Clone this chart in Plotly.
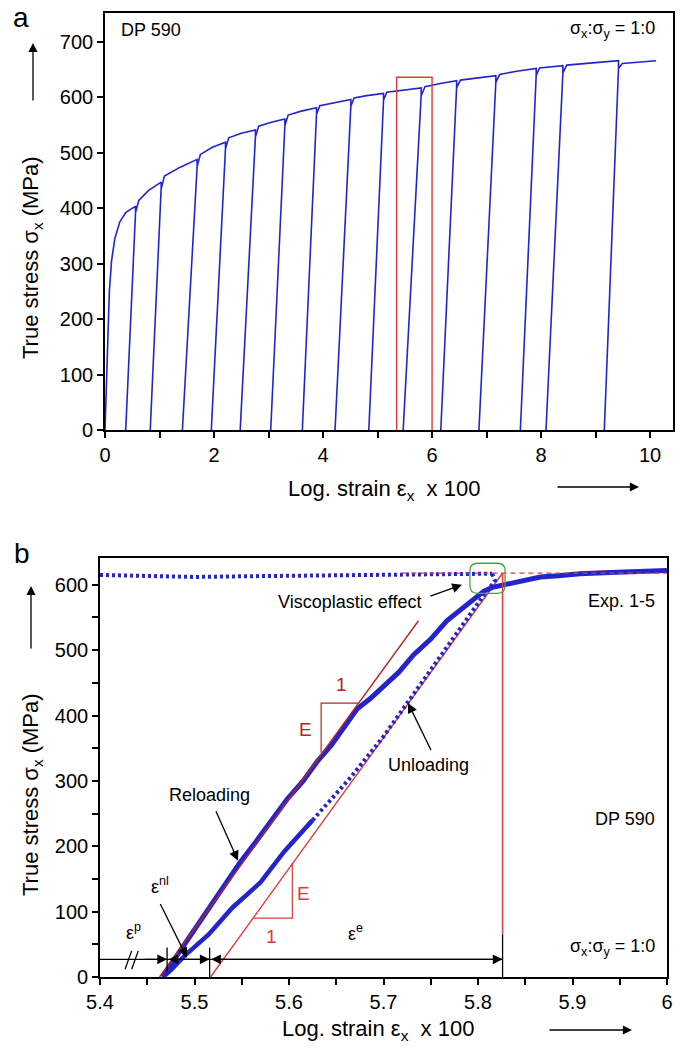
import plotly.graph_objects as go

W, H = 683, 1052
FONT = "Liberation Sans, Arial, sans-serif"
BLUE = "#2424cc"
RED = "#e03a3a"
DARKRED = "#b52525"
GREEN = "#4aa04a"

# ---------------- Panel a data (log strain x100, true stress MPa) ----------------
a_first_strain = [0.0, 0.04, 0.08, 0.12, 0.18, 0.27, 0.38, 0.50]
a_first_stress = [0, 150, 250, 305, 345, 375, 392, 400]
a_peak_strain = [0.56, 1.03, 1.69, 2.21, 2.76, 3.30, 3.88, 4.51, 5.11, 5.80, 6.45, 7.17, 7.91, 8.40, 9.42]
a_peak_stress = [403, 447, 488, 519, 541, 561, 581, 596, 607, 617, 630, 639, 652, 657, 666]
a_dip_stress = [392, 435, 475, 507, 529, 549, 569, 584, 595, 603, 617, 627, 639, 644, 652]
a_zero_strain = [0.38, 0.83, 1.42, 1.95, 2.48, 3.04, 3.62, 4.22, 4.84, 5.47, 6.16, 6.86, 7.62, 8.09, 9.16]
a_knee_strain = [0.62, 1.09, 1.75, 2.27, 2.82, 3.36, 3.94, 4.57, 5.17, 5.87, 6.52, 7.24, 7.97, 8.47, 9.49]
a_knee_stress = [414, 458, 497, 527, 548, 568, 585, 599, 609, 619, 631, 641, 653, 658, 661]
a_mid_strain = [0.80, 1.38, 1.97, 2.50, 3.05, 3.60, 4.22, 4.80, 5.45, 6.15, 6.80, 7.55, 8.15, 8.90, 9.80]
a_mid_stress = [432, 474, 510, 535, 555, 575, 591, 603, 613, 625, 635, 647, 655, 661, 663]
a_end_strain = 10.11
a_end_stress = 666
a_box_strain = [5.35, 5.35, 6.0, 6.0]
a_box_stress = [0, 636, 636, 0]

# ---------------- Panel b data ----------------
b_load_strain = [5.40, 5.45, 5.50, 5.55, 5.60, 5.65, 5.70, 5.75, 5.80, 5.815]
b_load_stress = [615, 614, 612, 613, 614, 615, 616, 617, 617, 617]
b_unload_strain = [5.815, 5.818, 5.806, 5.768, 5.731, 5.700, 5.665, 5.625, 5.595, 5.570, 5.540,
                   5.515, 5.490, 5.476, 5.467]
b_unload_stress = [617, 606, 584, 506, 429, 368, 305, 240, 192, 145, 106, 65, 33, 12, 0]
b_unload_dense_from = 7   # index where the unloading points become dense
b_reload_strain = [5.466, 5.480, 5.495, 5.510, 5.530, 5.548, 5.565, 5.580, 5.598, 5.615, 5.630,
                   5.645, 5.660, 5.672, 5.686, 5.700, 5.716, 5.732, 5.750, 5.767, 5.780,
                   5.792, 5.806, 5.815, 5.827, 5.840, 5.866, 5.885, 5.908, 5.940, 5.970, 6.000]
b_reload_stress = [0, 30, 60, 95, 138, 175, 207, 238, 272, 300, 330,
                   355, 386, 410, 426, 445, 466, 493, 517, 545, 560,
                   575, 590, 596, 600, 605, 612, 614, 617, 619, 620, 622]

# reference (elastic) lines and helpers
b_E_upper_strain = [5.463, 5.737]
b_E_upper_stress = [0, 545]
b_E_lower_strain = [5.517, 5.826]
b_E_lower_stress = [0, 618]
b_tri_upper_strain = [5.634, 5.634, 5.673]
b_tri_upper_stress = [343, 419, 419]
b_tri_lower_strain = [5.5625, 5.6035, 5.6035]
b_tri_lower_stress = [90, 90, 175]
b_flow_strain = [5.72, 6.0]
b_flow_stress = [618, 618]
b_vert_red_strain = [5.826, 5.826]
b_vert_red_stress = [65, 618]
b_dim_level = 27
b_dim_strain = [5.4, 5.826]
b_tick_strain = [5.471, 5.516, 5.826]
b_tick_low = [8, 0, 0]
b_tick_high = [45, 45, 65]
b_break_strain = [[5.4265, 5.4335], [5.4335, 5.4405]]
b_break_stress = [12, 40]
b_green_box = [5.7915, 5.8286, 587, 633]

fig = go.Figure()

# ---- panel a traces ----
px_, py_ = list(a_first_strain), list(a_first_stress)
for i in range(len(a_peak_strain)):
    px_ += [a_peak_strain[i], a_peak_strain[i], a_zero_strain[i], a_peak_strain[i],
            a_knee_strain[i], a_mid_strain[i]]
    py_ += [a_peak_stress[i], a_dip_stress[i], 0, a_dip_stress[i],
            a_knee_stress[i], a_mid_stress[i]]
px_.append(a_end_strain)
py_.append(a_end_stress)
fig.add_trace(go.Scatter(x=px_, y=py_, mode="lines", line=dict(color=BLUE, width=1.6),
                         xaxis="x", yaxis="y", showlegend=False, hoverinfo="skip"))
fig.add_trace(go.Scatter(x=a_box_strain, y=a_box_stress, mode="lines",
                         line=dict(color=RED, width=1.4), xaxis="x", yaxis="y",
                         showlegend=False, hoverinfo="skip"))

# ---- panel b traces ----
def add_b(x, y, color, width, dash=None):
    fig.add_trace(go.Scatter(x=x, y=y, mode="lines",
                             line=dict(color=color, width=width, dash=dash),
                             xaxis="x2", yaxis="y2", showlegend=False, hoverinfo="skip"))

add_b(b_E_lower_strain, b_E_lower_stress, RED, 1.4)
add_b(b_load_strain, b_load_stress, BLUE, 4, "3px,3px")
k = b_unload_dense_from
add_b(b_unload_strain[:k + 1], b_unload_stress[:k + 1], BLUE, 4, "3px,3px")
add_b(b_unload_strain[k:], b_unload_stress[k:], BLUE, 4.5)
add_b(b_reload_strain, b_reload_stress, BLUE, 5)
add_b(b_E_upper_strain, b_E_upper_stress, DARKRED, 1.4)
add_b(b_tri_upper_strain, b_tri_upper_stress, DARKRED, 1.2)
add_b(b_tri_lower_strain, b_tri_lower_stress, RED, 1.2)
add_b(b_flow_strain, b_flow_stress, RED, 1.3, "5px,4px")
add_b(b_vert_red_strain, b_vert_red_stress, RED, 1.5)
add_b(b_dim_strain, [b_dim_level, b_dim_level], "black", 1.3)
for xs, lo, hi in zip(b_tick_strain, b_tick_low, b_tick_high):
    add_b([xs, xs], [lo, hi], "black", 1.3)
for seg in b_break_strain:
    add_b(seg, b_break_stress, "black", 1.3)
gx0, gx1, gy0, gy1 = b_green_box
rx, ry = 0.008, 11
path = (f"M {gx0+rx},{gy0} L {gx1-rx},{gy0} Q {gx1},{gy0} {gx1},{gy0+ry} "
        f"L {gx1},{gy1-ry} Q {gx1},{gy1} {gx1-rx},{gy1} L {gx0+rx},{gy1} "
        f"Q {gx0},{gy1} {gx0},{gy1-ry} L {gx0},{gy0+ry} Q {gx0},{gy0} {gx0+rx},{gy0} Z")
fig.add_shape(type="path", path=path, xref="x2", yref="y2",
              line=dict(color=GREEN, width=1.3))

# ---- axes ----
axis_common = dict(showline=True, linecolor="black", linewidth=1.6, mirror=True,
                   ticks="outside", ticklen=6, tickwidth=1.5, tickcolor="black",
                   showgrid=False, zeroline=False, automargin=False,
                   tickfont=dict(family=FONT, size=20, color="black"))
fig.update_layout(
    xaxis=dict(domain=[105 / W, 673 / W], range=[0, 10.42], dtick=2, tick0=0, anchor="y",
               minor=dict(dtick=1, ticks="outside", ticklen=6, tickwidth=1.5, tickcolor="black"),
               **axis_common),
    yaxis=dict(domain=[1 - 430 / H, 1 - 13 / H], range=[0, 752], dtick=100, anchor="x",
               **axis_common),
    xaxis2=dict(domain=[100 / W, 667 / W], range=[5.4, 6.0], dtick=0.1, tick0=5.4, anchor="y2",
                minor=dict(dtick=0.05, ticks="outside", ticklen=6, tickwidth=1.5, tickcolor="black"),
                **axis_common),
    yaxis2=dict(domain=[1 - 977 / H, 1 - 558 / H], range=[0, 641], dtick=100, anchor="x2",
                minor=dict(dtick=50, ticks="outside", ticklen=6, tickwidth=1.5, tickcolor="black"),
                **axis_common),
)

ann = []

def ptext(x, y, text, size, **kw):
    ann.append(dict(x=x / W, y=1 - y / H, xref="paper", yref="paper", text=text,
                    xanchor="center", yanchor="middle",
                    showarrow=False, font=dict(family=FONT, size=size, color="black"), **kw))

def parrow(x0, y0, x1, y1):
    ann.append(dict(x=x1 / W, y=1 - y1 / H, xref="paper", yref="paper", text="",
                    showarrow=True, ax=x0 - x1, ay=y0 - y1, arrowhead=2, arrowsize=1.4,
                    arrowwidth=1.3, arrowcolor="black"))

# panel labels and axis titles
ptext(21, 17, "a", 28)
ptext(22, 553, "b", 28)
ytitle = "True stress σ<sub>x</sub> (MPa)"
xtitle = "Log. strain ε<sub>x</sub>&nbsp; x 100"
ptext(32, 258, ytitle, 22, textangle=-90)
ptext(32, 795, ytitle, 22, textangle=-90)
ptext(384, 490, xtitle, 22)
ptext(378, 1030, xtitle, 22)
parrow(33, 102, 33, 43)
parrow(31, 650, 31, 586)
parrow(556, 487, 639, 487)
parrow(548, 1030, 632, 1030)

def dtext(x, y, text, size, color="black", axis="2", xanchor="center", **kw):
    ann.append(dict(x=x, y=y, xref="x" + axis, yref="y" + axis,
                    text=text, showarrow=False, xanchor=xanchor, yanchor="middle",
                    font=dict(family=FONT, size=size, color=color), **kw))

def darrow(x0, y0, x1, y1, side="end", size=1.5):
    ann.append(dict(x=x1, y=y1, ax=x0, ay=y0, xref="x2", yref="y2", axref="x2", ayref="y2",
                    text="", showarrow=True, arrowhead=2, arrowsize=size, arrowwidth=1.3,
                    arrowcolor="black", arrowside=side))

# panel a texts
dtext(0.25, 722, "DP 590", 18, axis="", xanchor="left")
dtext(10.13, 722, "σ<sub>x</sub>:σ<sub>y</sub> = 1:0", 18, axis="", xanchor="right")

# panel b texts
dtext(5.989, 575, "Exp. 1-5", 18, xanchor="right")
dtext(5.989, 242, "DP 590", 18, xanchor="right")
dtext(5.989, 45, "σ<sub>x</sub>:σ<sub>y</sub> = 1:0", 18, xanchor="right")
dtext(5.664, 574, "Viscoplastic effect", 18)
darrow(5.748, 582, 5.783, 600)
dtext(5.516, 278, "Reloading", 18)
darrow(5.522, 256, 5.546, 178)
dtext(5.748, 325, "Unloading", 18)
darrow(5.751, 345, 5.726, 419)
dtext(5.435, 70, "ε<sup>p</sup>", 18)
dtext(5.463, 140, "ε<sup>nl</sup>", 18)
darrow(5.463, 114, 5.492, 30)
dtext(5.670, 68, "ε<sup>e</sup>", 18)
dtext(5.617, 378, "E", 19, color=DARKRED)
dtext(5.656, 448, "1", 19, color=DARKRED)
dtext(5.615, 128, "E", 19, color=RED)
dtext(5.582, 62, "1", 19, color=RED)
# dimension arrows
darrow(5.446, b_dim_level, 5.471, b_dim_level)
darrow(5.471, b_dim_level, 5.516, b_dim_level, side="end+start")
darrow(5.516, b_dim_level, 5.826, b_dim_level, side="end+start")

fig.update_layout(annotations=ann, width=W, height=H, autosize=False,
                  margin=dict(l=0, r=0, t=0, b=0),
                  paper_bgcolor="white", plot_bgcolor="white",
                  font=dict(family=FONT, color="black"))

fig.write_html(
    "out.html",
    config={"displayModeBar": False},
    post_script=("document.body.style.margin='0';document.body.style.padding='0';"
                 "document.body.style.overflow='hidden';"
                 "document.documentElement.style.overflow='hidden';"),
)
